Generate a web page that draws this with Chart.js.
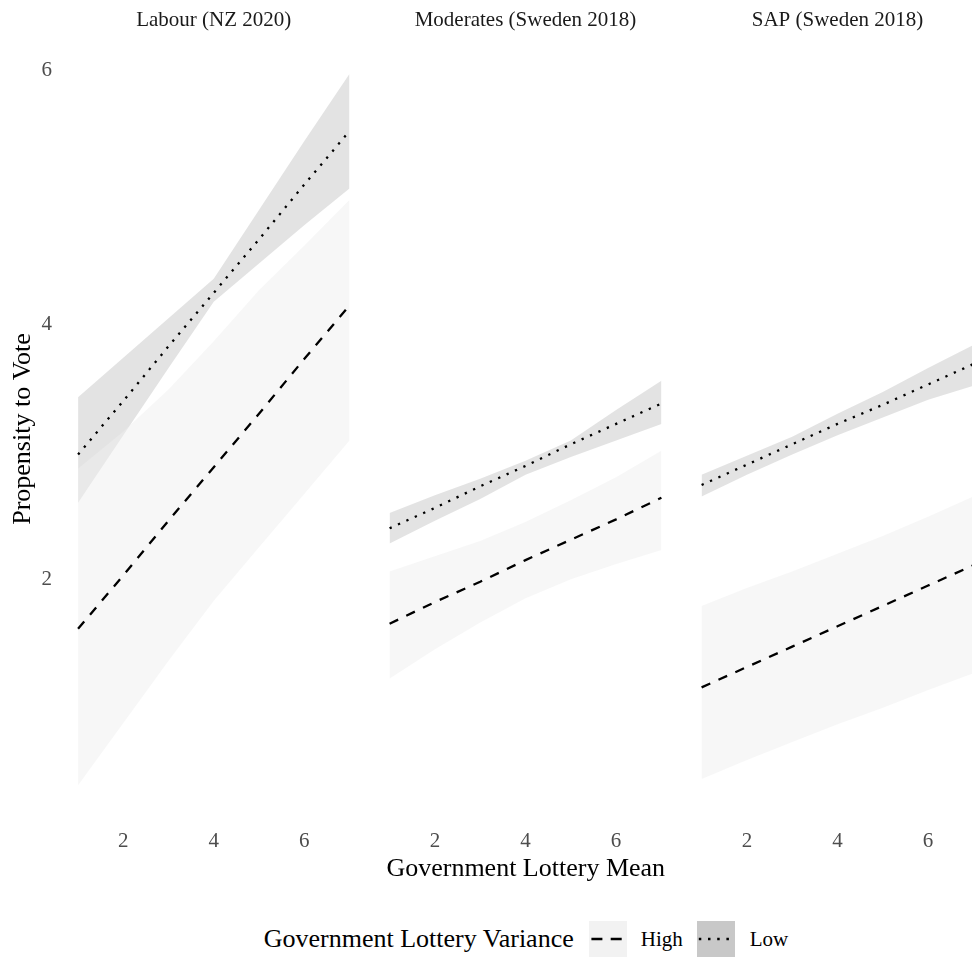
<!DOCTYPE html>
<html>
<head>
<meta charset="utf-8">
<script src="https://cdn.jsdelivr.net/npm/chart.js@4.4.1/dist/chart.umd.min.js"></script>
<style>
html,body{margin:0;padding:0;background:#fff;overflow:hidden;width:972px;height:958px;}
#wrap{position:relative;width:972px;height:958px;overflow:hidden;font-family:'Liberation Serif','Times New Roman',serif;}
#wrap canvas{position:absolute;top:0;}
#xtitle{position:absolute;left:64.5px;width:922.5px;top:853px;text-align:center;font-size:26px;line-height:30px;color:#000;white-space:nowrap;}
#legend{position:absolute;top:921px;height:36px;left:0;width:1052px;display:flex;justify-content:center;align-items:center;white-space:nowrap;color:#000;}
#legend .ttl{font-size:26px;line-height:36px;}
#legend .lab{font-size:21px;line-height:36px;}
#legend svg{display:block;}
</style>
</head>
<body>
<div id="wrap">
  <canvas id="c0"></canvas>
  <canvas id="c1"></canvas>
  <canvas id="c2"></canvas>
  <div id="xtitle">Government Lottery Mean</div>
  <div id="legend">
    <span class="ttl">Government Lottery Variance</span>
    <svg width="38" height="36" style="margin-left:15px"><rect x="0" y="0" width="38" height="36" fill="#f2f2f2"/><line x1="2.4" y1="18" x2="36" y2="18" stroke="#000" stroke-width="2.5" stroke-dasharray="11 8.3"/></svg>
    <span class="lab" style="margin-left:14px">High</span>
    <svg width="38" height="36" style="margin-left:14px"><rect x="0" y="0" width="38" height="36" fill="#c8c8c8"/><line x1="1.8" y1="18" x2="36" y2="18" stroke="#000" stroke-width="2.5" stroke-dasharray="2.5 6.7"/></svg>
    <span class="lab" style="margin-left:15px">Low</span>
  </div>
</div>
<script>
// ---------------- data ----------------
const xValues = [1, 2, 3, 4, 5, 6, 7];
const panelNames = ['Labour (NZ 2020)', 'Moderates (Sweden 2018)', 'SAP (Sweden 2018)'];
const xTickValues = [2, 4, 6];
const yTickValues = [2, 4, 6];
const seriesNames = ['High', 'Low'];

// Labour (NZ 2020)
const labourHighFit   = [1.61, 2.03, 2.46, 2.88, 3.30, 3.73, 4.15];
const labourHighLower = [0.38, 0.87, 1.36, 1.83, 2.25, 2.67, 3.09];
const labourHighUpper = [2.87, 3.16, 3.49, 3.87, 4.27, 4.62, 4.98];
const labourLowFit    = [2.98, 3.40, 3.83, 4.25, 4.67, 5.10, 5.52];
const labourLowLower  = [2.60, 3.13, 3.66, 4.18, 4.48, 4.78, 5.07];
const labourLowUpper  = [3.43, 3.74, 4.05, 4.36, 4.90, 5.44, 5.97];

// Moderates (Sweden 2018)
const modHighFit   = [1.65, 1.82, 1.98, 2.15, 2.31, 2.47, 2.64];
const modHighLower = [1.22, 1.45, 1.66, 1.85, 2.00, 2.12, 2.23];
const modHighUpper = [2.06, 2.18, 2.30, 2.45, 2.62, 2.80, 3.01];
const modLowFit    = [2.40, 2.56, 2.73, 2.89, 3.06, 3.22, 3.38];
const modLowLower  = [2.28, 2.46, 2.63, 2.82, 2.96, 3.09, 3.22];
const modLowUpper  = [2.52, 2.66, 2.79, 2.93, 3.09, 3.33, 3.56];

// SAP (Sweden 2018)
const sapHighFit   = [1.15, 1.31, 1.47, 1.63, 1.79, 1.95, 2.11];
const sapHighLower = [0.43, 0.58, 0.72, 0.86, 0.99, 1.13, 1.26];
const sapHighUpper = [1.79, 1.93, 2.06, 2.20, 2.34, 2.49, 2.65];
const sapLowFit    = [2.74, 2.90, 3.06, 3.22, 3.37, 3.53, 3.69];
const sapLowLower  = [2.65, 2.82, 2.98, 3.13, 3.27, 3.41, 3.52];
const sapLowUpper  = [2.82, 2.97, 3.12, 3.30, 3.47, 3.66, 3.84];

// ---------------- chart building ----------------
const panelData = [
  {name: panelNames[0], hf: labourHighFit, hl: labourHighLower, hu: labourHighUpper, lf: labourLowFit, ll: labourLowLower, lu: labourLowUpper},
  {name: panelNames[1], hf: modHighFit, hl: modHighLower, hu: modHighUpper, lf: modLowFit, ll: modLowLower, lu: modLowUpper},
  {name: panelNames[2], hf: sapHighFit, hl: sapHighLower, hu: sapHighUpper, lf: sapLowFit, ll: sapLowLower, lu: sapLowUpper}
];
const layoutSpec = [
  {left: 0, width: 363, showY: true},
  {left: 376, width: 299, showY: false},
  {left: 688, width: 299, showY: false}
];
const FONT = "'Liberation Serif', 'Times New Roman', serif";
const H = 861;

function pts(arr) { return xValues.map((x, i) => ({x: x, y: arr[i]})); }

panelData.forEach((p, k) => {
  const spec = layoutSpec[k];
  const cv = document.getElementById('c' + k);
  cv.width = spec.width; cv.height = H;
  cv.style.width = spec.width + 'px'; cv.style.height = H + 'px';
  cv.style.left = spec.left + 'px';
  const base = {pointRadius: 0, pointHoverRadius: 0, tension: 0};
  new Chart(cv, {
    type: 'line',
    data: {
      datasets: [
        Object.assign({label: seriesNames[0], data: pts(p.hf), borderColor: '#000', borderWidth: 2.3, borderDash: [9.5, 9], fill: false}, base),
        Object.assign({label: seriesNames[1], data: pts(p.lf), borderColor: '#000', borderWidth: 2.3, borderDash: [2.3, 6.9], fill: false}, base),
        Object.assign({label: seriesNames[0] + ' upper', data: pts(p.hu), borderWidth: 0, borderColor: 'rgba(0,0,0,0)', backgroundColor: 'rgba(240,240,240,0.5)', fill: 3}, base),
        Object.assign({label: seriesNames[0] + ' lower', data: pts(p.hl), borderWidth: 0, borderColor: 'rgba(0,0,0,0)', fill: false}, base),
        Object.assign({label: seriesNames[1] + ' upper', data: pts(p.lu), borderWidth: 0, borderColor: 'rgba(0,0,0,0)', backgroundColor: 'rgba(199,199,199,0.5)', fill: 5}, base),
        Object.assign({label: seriesNames[1] + ' lower', data: pts(p.ll), borderWidth: 0, borderColor: 'rgba(0,0,0,0)', fill: false}, base)
      ]
    },
    options: {
      responsive: false,
      animation: false,
      devicePixelRatio: 1,
      layout: {padding: 0},
      plugins: {
        legend: {display: false},
        tooltip: {enabled: false},
        title: {
          display: true, text: p.name, fullSize: false, color: '#1a1a1a',
          font: {family: FONT, size: 21, weight: 'normal', lineHeight: '24px'},
          padding: {top: 8, bottom: 5}
        }
      },
      scales: {
        x: {
          type: 'linear', min: 0.7, max: 7.3,
          grid: {display: false, drawTicks: false}, border: {display: false},
          afterBuildTicks: (s) => { s.ticks = xTickValues.map(v => ({value: v})); },
          afterFit: (s) => { s.height = 40; },
          ticks: {color: '#4d4d4d', padding: 7.5, font: {family: FONT, size: 21}, maxRotation: 0, autoSkip: false}
        },
        y: {
          type: 'linear', min: 0.1, max: 6.26, display: spec.showY,
          grid: {display: false, drawTicks: false}, border: {display: false},
          afterBuildTicks: (s) => { s.ticks = yTickValues.map(v => ({value: v})); },
          afterFit: (s) => { if (spec.showY) s.width = 64.5; },
          ticks: {color: '#4d4d4d', padding: 12.5, font: {family: FONT, size: 21}, autoSkip: false},
          title: {display: spec.showY, text: 'Propensity to Vote', color: '#000', font: {family: FONT, size: 26, lineHeight: '31px'}, padding: {top: 7.5, bottom: 0}}
        }
      }
    }
  });
});
</script>
</body>
</html>
